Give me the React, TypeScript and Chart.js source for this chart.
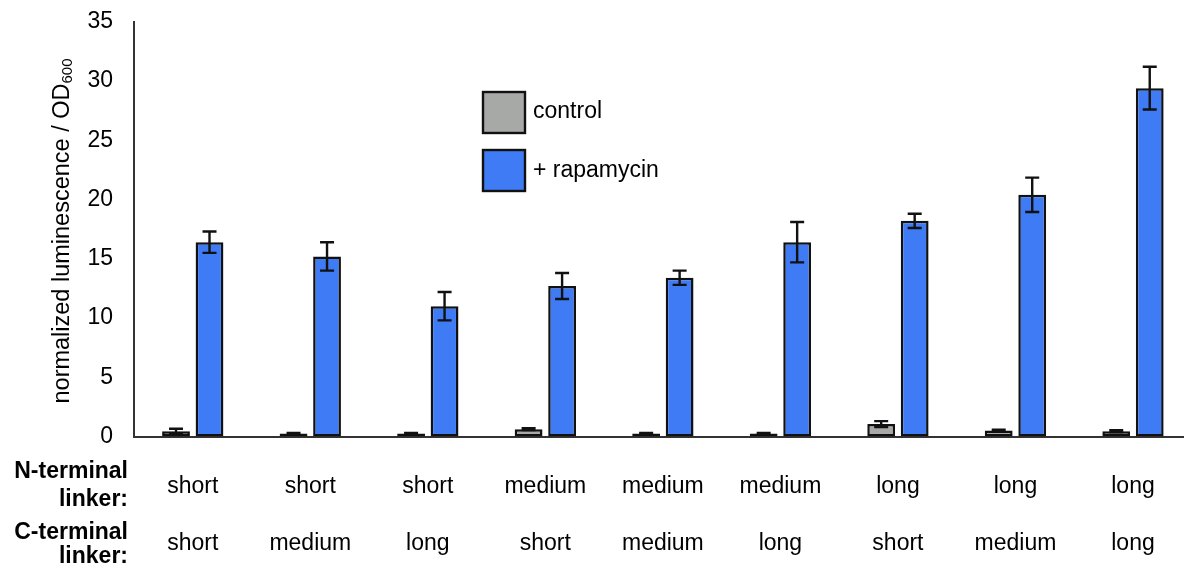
import React, { useEffect, useRef } from "react";
import { Chart, registerables } from "chart.js";

Chart.register(...registerables);

const nTerminal = ["short", "short", "short", "medium", "medium", "medium", "long", "long", "long"];
const cTerminal = ["short", "medium", "long", "short", "medium", "long", "short", "medium", "long"];
const seriesLabels = ["control", "+ rapamycin"];
const controlValues = [0.45, 0.25, 0.25, 0.62, 0.25, 0.25, 1.05, 0.5, 0.45];
const controlErrors = [0.2, 0.05, 0.05, 0.08, 0.05, 0.05, 0.25, 0.08, 0.08];
const rapamycinValues = [16.4, 15.2, 11.0, 12.7, 13.4, 16.4, 18.2, 20.4, 29.4];
const rapamycinErrors = [0.9, 1.2, 1.2, 1.1, 0.6, 1.7, 0.6, 1.45, 1.8];
const yTicks = [0, 5, 10, 15, 20, 25, 30, 35];
const yTitleMain = "normalized luminescence / OD";
const yTitleSub = "600";
const rowTitles = [["N-terminal", "linker:"], ["C-terminal", "linker:"]];

const FONT = "'Liberation Sans', Arial, Helvetica, sans-serif";
const errorSets = [controlErrors, rapamycinErrors];

const errorBarPlugin = {
  id: "errorBars",
  afterDatasetsDraw(chart: any) {
    const ctx = chart.ctx;
    const yScale = chart.scales.y;
    ctx.save();
    ctx.strokeStyle = "#111";
    ctx.lineWidth = 2.4;
    chart.data.datasets.forEach((ds: any, di: number) => {
      const meta = chart.getDatasetMeta(di);
      const errs = errorSets[di];
      meta.data.forEach((bar: any, i: number) => {
        const v = ds.data[i].y;
        const e = errs[i];
        const x = bar.x;
        const yTop = yScale.getPixelForValue(v + e);
        const yBot = yScale.getPixelForValue(Math.max(0, v - e));
        ctx.beginPath();
        ctx.moveTo(x, yTop);
        ctx.lineTo(x, yBot);
        ctx.moveTo(x - 7, yTop);
        ctx.lineTo(x + 7, yTop);
        ctx.moveTo(x - 7, yBot);
        ctx.lineTo(x + 7, yBot);
        ctx.stroke();
      });
    });
    ctx.restore();
  },
};

const decorPlugin = {
  id: "decor",
  afterDraw(chart: any) {
    const ctx = chart.ctx;
    ctx.save();
    // legend
    const boxX = 483;
    const boxYs = [92, 150];
    const textYs = [112, 171];
    chart.data.datasets.forEach((ds: any, i: number) => {
      ctx.fillStyle = ds.backgroundColor;
      ctx.strokeStyle = "#111";
      ctx.lineWidth = 2.4;
      ctx.fillRect(boxX, boxYs[i], 42, 41);
      ctx.strokeRect(boxX, boxYs[i], 42, 41);
      ctx.fillStyle = "#000";
      ctx.font = `23px ${FONT}`;
      ctx.textAlign = "left";
      ctx.textBaseline = "middle";
      ctx.fillText(ds.label, 533, textYs[i]);
    });
    // y axis title with subscript
    ctx.translate(63, 231);
    ctx.rotate(-Math.PI / 2);
    ctx.font = `23.5px ${FONT}`;
    const w1 = ctx.measureText(yTitleMain).width;
    ctx.font = `15px ${FONT}`;
    const w2 = ctx.measureText(yTitleSub).width;
    const start = -(w1 + w2) / 2;
    ctx.fillStyle = "#000";
    ctx.textAlign = "left";
    ctx.textBaseline = "middle";
    ctx.font = `23.5px ${FONT}`;
    ctx.fillText(yTitleMain, start, 0);
    ctx.font = `15px ${FONT}`;
    ctx.fillText(yTitleSub, start + w1, 5);
    ctx.setTransform(1, 0, 0, 1, 0, 0);
    // row titles
    ctx.font = `bold 23px ${FONT}`;
    ctx.textAlign = "right";
    ctx.textBaseline = "middle";
    const rowYs = [[472, 499.5], [533, 557]];
    rowTitles.forEach((lines, r) => {
      lines.forEach((t, k) => ctx.fillText(t, 128, rowYs[r][k]));
    });
    ctx.restore();
  },
};

export default function App() {
  const ref = useRef<HTMLCanvasElement | null>(null);
  useEffect(() => {
    if (!ref.current) return;
    const chart = new Chart(ref.current, {
      type: "bar",
      data: {
        datasets: [
          {
            label: seriesLabels[0],
            data: controlValues.map((v, i) => ({ x: i, y: v })),
            backgroundColor: "#a7a9a6",
            borderColor: "#111",
            borderWidth: 2.5,
            borderSkipped: false,
          },
          {
            label: seriesLabels[1],
            data: rapamycinValues.map((v, i) => ({ x: i, y: v })),
            backgroundColor: "#3e7bf5",
            borderColor: "#111",
            borderWidth: 2.5,
            borderSkipped: false,
          },
        ],
      } as any,
      options: {
        animation: false,
        responsive: false,
        maintainAspectRatio: false,
        barPercentage: 0.83,
        categoryPercentage: 0.57,
        layout: { padding: 0 },
        plugins: {
          legend: { display: false },
          tooltip: { enabled: false },
          title: { display: false },
        },
        scales: {
          x: {
            type: "linear",
            min: -0.5,
            max: 8.434,
            offset: false,
            grid: { display: false, drawTicks: false, offset: false },
            border: { display: true, color: "#333", width: 2 },
            afterBuildTicks: (s: any) => {
              s.ticks = nTerminal.map((_, i) => ({ value: i }));
            },
            afterFit: (s: any) => {
              s.height = 132.5;
            },
            ticks: {
              autoSkip: false,
              maxRotation: 0,
              minRotation: 0,
              padding: 22,
              color: "#000",
              font: { family: FONT, size: 23, lineHeight: 57 / 23 },
              callback: (v: any) => [nTerminal[v], cTerminal[v]],
            },
          },
          y: {
            min: 0,
            max: 35,
            grid: { display: false, drawTicks: true, tickLength: 13 },
            border: { display: true, color: "#333", width: 2 },
            afterBuildTicks: (s: any) => {
              s.ticks = yTicks.map((v) => ({ value: v }));
            },
            afterFit: (s: any) => {
              s.width = 134;
            },
            ticks: {
              padding: 8,
              color: "#000",
              font: { family: FONT, size: 23 },
            },
          },
        },
      } as any,
      plugins: [errorBarPlugin, decorPlugin],
    });
    return () => chart.destroy();
  }, []);
  return (
    <div style={{ position: "absolute", left: 0, top: 0, width: 1184, height: 569, background: "#fff" }}>
      <canvas ref={ref} width={1184} height={569} style={{ display: "block", width: 1184, height: 569 }} />
    </div>
  );
}
